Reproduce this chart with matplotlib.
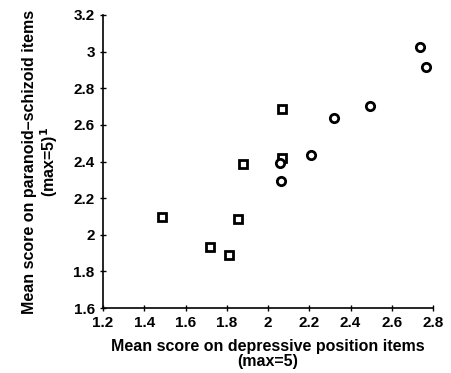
import matplotlib.pyplot as plt

plt.rcParams['font.family'] = ['Liberation Sans', 'DejaVu Sans']

# squares
sq_x = [1.485, 1.719, 1.812, 1.855, 1.878, 2.070, 2.070]
sq_y = [2.095, 1.934, 1.892, 2.085, 2.384, 2.685, 2.417]
# circles
ci_x = [2.059, 2.061, 2.210, 2.318, 2.495, 2.737, 2.767]
ci_y = [2.393, 2.295, 2.435, 2.635, 2.703, 3.027, 2.917]

xticks = [1.2, 1.4, 1.6, 1.8, 2, 2.2, 2.4, 2.6, 2.8]
yticks = [1.6, 1.8, 2, 2.2, 2.4, 2.6, 2.8, 3, 3.2]

fig = plt.figure(figsize=(4.52, 3.73), dpi=100)
ax = fig.add_axes([0.228, 0.174, 0.730, 0.786])

ax.plot(sq_x, sq_y, 's', ms=6, mfc='white', mec='black', mew=2)
ax.plot(ci_x, ci_y, 'o', ms=6, mfc='white', mec='black', mew=2)

ax.set_xlim(1.2, 2.8)
ax.set_ylim(1.6, 3.2)
ax.set_xticks(xticks)
ax.set_xticklabels(['1.2', '1.4', '1.6', '1.8', '2', '2.2', '2.4', '2.6', '2.8'])
ax.set_yticks(yticks)
ax.set_yticklabels(['1.6', '1.8', '2', '2.2', '2.4', '2.6', '2.8', '3', '3.2'])
ax.tick_params(direction='inout', length=4, width=1, labelsize=11, pad=4)
for lab in ax.get_xticklabels() + ax.get_yticklabels():
    lab.set_fontweight('bold')

ax.spines['top'].set_visible(False)
ax.spines['right'].set_visible(False)
ax.spines['left'].set_linewidth(1.2)
ax.spines['bottom'].set_linewidth(1.2)

ax.set_xlabel('Mean score on depressive position items\n(max=5)',
              fontsize=11.5, fontweight='bold', labelpad=6, linespacing=1.05)
ax.set_ylabel('Mean score on paranoid\u2013schizoid items\n(max=5)$^\\mathbf{1}$',
              fontsize=11.5, fontweight='bold', labelpad=10, linespacing=1.05)

fig.savefig('out.png', dpi=100)
